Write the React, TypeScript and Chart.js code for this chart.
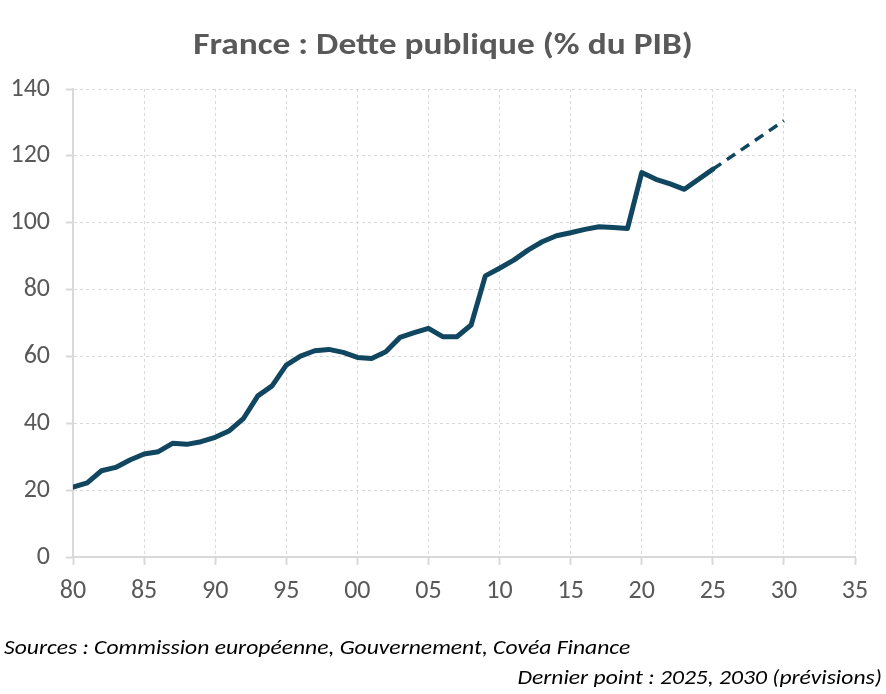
import { useEffect, useRef } from "react";
import { Chart, registerables } from "chart.js";

Chart.register(...registerables);

// Dette publique de la France, en % du PIB
const years = [
  1980, 1981, 1982, 1983, 1984, 1985, 1986, 1987, 1988, 1989,
  1990, 1991, 1992, 1993, 1994, 1995, 1996, 1997, 1998, 1999,
  2000, 2001, 2002, 2003, 2004, 2005, 2006, 2007, 2008, 2009,
  2010, 2011, 2012, 2013, 2014, 2015, 2016, 2017, 2018, 2019,
  2020, 2021, 2022, 2023, 2024, 2025,
];
const debt = [
  20.9, 22.2, 25.8, 26.8, 29.0, 30.8, 31.5, 34.0, 33.7, 34.5,
  35.8, 37.8, 41.5, 48.2, 51.2, 57.4, 60.1, 61.7, 62.1, 61.2,
  59.7, 59.4, 61.4, 65.7, 67.1, 68.4, 65.9, 65.9, 69.4, 84.1,
  86.4, 88.8, 91.8, 94.3, 96.1, 97.0, 98.0, 98.8, 98.6, 98.3,
  115.0, 113.0, 111.6, 110.0, 113.0, 116.0,
];

// Prévisions
const forecastYears = [2025, 2030];
const forecastDebt = [116.0, 130.5];

const title = "France : Dette publique (% du PIB)";
const sourceNote = "Sources : Commission européenne, Gouvernement, Covéa Finance";
const lastPointNote = "Dernier point : 2025, 2030 (prévisions)";

const FONT = "'Carlito', 'Lato', sans-serif";
const TEXT = "#595959";
const GRID = "#d9d9d9";
const LINE = "#114660";
const WIDEN = "scaleX(1.18)";

export default function App() {
  const ref = useRef<HTMLCanvasElement | null>(null);

  useEffect(() => {
    if (!ref.current) return;
    const chart = new Chart(ref.current, {
      type: "line",
      data: {
        datasets: [
          {
            label: "Dette publique",
            data: years.map((x, i) => ({ x, y: debt[i] })),
            borderColor: LINE,
            borderWidth: 5,
            pointRadius: 0,
            tension: 0,
            borderJoinStyle: "round",
            borderCapStyle: "round",
          },
          {
            label: "Prévisions",
            data: forecastYears.map((x, i) => ({ x, y: forecastDebt[i] })),
            borderColor: LINE,
            borderWidth: 3.5,
            borderDash: [10, 7],
            pointRadius: 0,
            tension: 0,
          },
        ],
      },
      options: {
        responsive: false,
        animation: false,
        layout: { padding: { top: 89, right: 31, left: 0, bottom: 0 } },
        plugins: {
          legend: { display: false },
          title: { display: false },
          tooltip: { enabled: false },
        },
        scales: {
          x: {
            type: "linear",
            min: 1980,
            max: 2035,
            afterFit: (s: any) => {
              s.height = 137;
            },
            ticks: {
              stepSize: 5,
              color: TEXT,
              font: { family: FONT, size: 26 },
              padding: 11,
              maxRotation: 0,
              callback: (v: any) => String(Number(v) % 100).padStart(2, "0"),
            },
            grid: {
              color: GRID,
              lineWidth: 1,
              tickLength: 8,
              tickWidth: 2,
              tickColor: GRID,
            },
            border: { display: true, color: GRID, width: 2, dash: [3, 3] },
          },
          y: {
            min: 0,
            max: 140,
            afterFit: (s: any) => {
              s.width = 73;
            },
            ticks: {
              stepSize: 20,
              color: TEXT,
              font: { family: FONT, size: 26 },
              padding: 16,
            },
            grid: {
              color: GRID,
              lineWidth: 1,
              tickLength: 7,
              tickWidth: 2,
              tickColor: GRID,
            },
            border: { display: true, color: GRID, width: 2, dash: [3, 3] },
          },
        },
      },
    });
    return () => chart.destroy();
  }, []);

  return (
    <div
      style={{
        position: "fixed",
        left: 0,
        top: 0,
        width: 886,
        height: 694,
        background: "#ffffff",
        overflow: "hidden",
      }}
    >
      <canvas
        ref={ref}
        width={886}
        height={694}
        style={{ position: "absolute", left: 0, top: 0, width: 886, height: 694 }}
      />
      <div
        style={{
          position: "absolute",
          left: 0,
          top: 26,
          width: 886,
          textAlign: "center",
          fontFamily: FONT,
          fontWeight: "bold",
          fontSize: 30,
          lineHeight: "36px",
          color: TEXT,
          transform: WIDEN,
          transformOrigin: "443px 0",
        }}
      >
        {title}
      </div>
      <div
        style={{
          position: "absolute",
          left: 4,
          top: 634,
          fontFamily: FONT,
          fontStyle: "italic",
          fontSize: 20,
          lineHeight: "26px",
          color: "#000000",
          whiteSpace: "nowrap",
          transform: WIDEN,
          transformOrigin: "0 0",
        }}
      >
        {sourceNote}
      </div>
      <div
        style={{
          position: "absolute",
          right: 4,
          top: 664,
          fontFamily: FONT,
          fontStyle: "italic",
          fontSize: 20,
          lineHeight: "26px",
          color: "#000000",
          whiteSpace: "nowrap",
          transform: WIDEN,
          transformOrigin: "100% 0",
        }}
      >
        {lastPointNote}
      </div>
    </div>
  );
}
